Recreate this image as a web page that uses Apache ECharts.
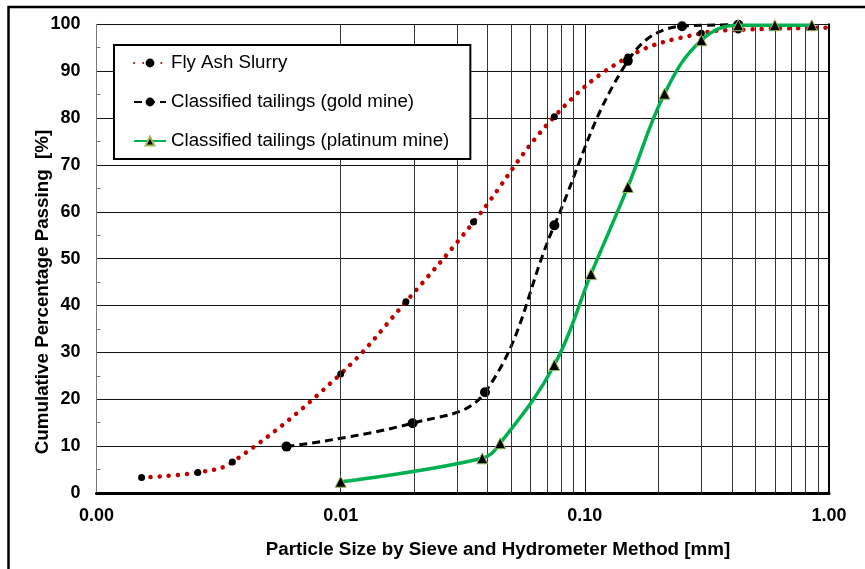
<!DOCTYPE html>
<html>
<head>
<meta charset="utf-8">
<script src="https://cdn.jsdelivr.net/npm/echarts@6/dist/echarts.min.js"></script>
<style>
html,body{margin:0;padding:0;background:#fff;}
#chart{width:865px;height:569px;}
</style>
</head>
<body>
<div id="chart"></div>
<script>
// ---- data ----
const seriesNames = ['Fly Ash Slurry', 'Classified tailings (gold mine)', 'Classified tailings (platinum mine)'];
const xTitle = 'Particle Size by Sieve and Hydrometer Method [mm]';
const yTitle = 'Cumulative Percentage Passing  [%]';

const flySize = [0.00153, 0.0026, 0.0036, 0.01, 0.0185, 0.035, 0.075, 0.15, 0.3, 0.425, 1.0];
const flyPass = [3.3, 4.4, 6.6, 25.4, 40.8, 57.8, 80.3, 93.0, 98.1, 98.8, 99.3];

const goldSize = [0.006, 0.0197, 0.039, 0.075, 0.15, 0.25, 0.425];
const goldPass = [9.9, 14.9, 21.5, 57.1, 92.2, 99.6, 99.9];

const platSize = [0.01, 0.038, 0.045, 0.075, 0.106, 0.15, 0.212, 0.3, 0.425, 0.6, 0.85];
const platPass = [2.4, 7.4, 10.6, 27.3, 46.7, 65.3, 85.2, 96.6, 99.8, 99.8, 99.8];

const xTickDecades = [0.001, 0.01, 0.1, 1];
const minorMantissas = [2, 3, 4, 5, 6, 7, 8, 9];

// ---- build ----
const zip = (xs, ys) => xs.map((x, i) => [x, ys[i]]);
const flyData = zip(flySize, flyPass).map((p, i) =>
  i === flySize.length - 1 ? { value: p, symbol: 'none' } : p);
const minorLines = [];
xTickDecades.slice(0, -1).forEach(d => minorMantissas.forEach(m => minorLines.push({ xAxis: +(d * m).toPrecision(3) })));

const FONT = '"Liberation Sans", Arial, sans-serif';
const TITLE_FONT = 'bold 18.8px "Liberation Sans", Arial, sans-serif';
const chart = echarts.init(document.getElementById('chart'), null, { renderer: 'canvas' });
chart.setOption({
  animation: false,
  backgroundColor: '#fff',
  textStyle: { fontFamily: FONT },
  graphic: [{
    type: 'rect', silent: true, z: -10,
    shape: { x: 8.5, y: 7, width: 900, height: 620 },
    style: { fill: null, stroke: '#000', lineWidth: 2.5 }
  }, {
    type: 'text', silent: true, x: 498, y: 550,
    style: { text: xTitle, align: 'center', verticalAlign: 'middle', font: TITLE_FONT, fill: '#000' }
  }, {
    type: 'text', silent: true, x: 43, y: 292, rotation: Math.PI / 2,
    style: { text: yTitle, align: 'center', verticalAlign: 'middle', font: TITLE_FONT, fill: '#000' }
  }],
  grid: { left: 96.5, right: 36, top: 24.3, bottom: 76 },
  legend: {
    data: seriesNames,
    orient: 'vertical',
    left: 114, top: 45,
    backgroundColor: '#fff',
    borderColor: '#000', borderWidth: 2, borderRadius: 0,
    padding: [8, 21, 8, 19],
    itemWidth: 32, itemHeight: 11,
    itemGap: 19,
    textStyle: { fontSize: 18.7, lineHeight: 20, color: '#000', fontFamily: FONT },
    z: 10
  },
  xAxis: [{
    type: 'log', logBase: 10, min: 0.001, max: 1,
    axisLine: { show: true, lineStyle: { color: '#000', width: 3 } },
    axisTick: { show: false },
    axisLabel: { formatter: v => Number(v).toFixed(2), color: '#000', fontWeight: 'bold', fontSize: 18, fontFamily: FONT, margin: 14 },
    splitLine: { show: true, lineStyle: { color: '#111', width: 1 } }
  }, {
    type: 'log', logBase: 10, min: 0.001, max: 1, position: 'top',
    axisLine: { show: true, lineStyle: { color: '#000', width: 2 } },
    axisTick: { show: false }, axisLabel: { show: false }, splitLine: { show: false }
  }],
  yAxis: [{
    type: 'value', min: 0, max: 100, interval: 10,
    axisLine: { show: true, lineStyle: { color: '#777', width: 1 } },
    axisTick: { show: false, inside: true },
    minorTick: { show: true, splitNumber: 2, length: 4, lineStyle: { color: '#777', width: 1 } },
    axisLabel: { color: '#000', fontWeight: 'bold', fontSize: 18, fontFamily: FONT, margin: 16 },
    splitLine: { show: true, lineStyle: { color: '#111', width: 1 } }
  }, {
    type: 'value', min: 0, max: 100, position: 'right',
    axisLine: { show: true, lineStyle: { color: '#000', width: 2 } },
    axisTick: { show: false }, axisLabel: { show: false }, splitLine: { show: false }
  }],
  series: [{
    name: 'grid-minor', type: 'line', data: [], z: 1, silent: true,
    markLine: {
      silent: true, symbol: ['none', 'none'], label: { show: false },
      lineStyle: { color: '#333', width: 1, type: 'solid' },
      emphasis: { disabled: true },
      data: minorLines
    }
  }, {
    name: seriesNames[0], type: 'line', data: flyData, smooth: 0.4, z: 3,
    symbol: 'circle', symbolSize: 7,
    itemStyle: { color: '#000' },
    lineStyle: { color: '#c00000', width: 4.5, type: [0.1, 9], cap: 'round' }
  }, {
    name: seriesNames[1], type: 'line', data: zip(goldSize, goldPass), smooth: 0.4, z: 4,
    symbol: 'circle', symbolSize: 10,
    itemStyle: { color: '#000' },
    lineStyle: { color: '#000', width: 3, type: [8, 5] }
  }, {
    name: seriesNames[2], type: 'line', data: zip(platSize, platPass), smooth: 0.4, z: 5,
    symbol: 'triangle', symbolSize: 11,
    itemStyle: { color: '#000', borderColor: '#9bbb59', borderWidth: 1 },
    lineStyle: { color: '#00b050', width: 3.5 }
  }]
});
</script>
</body>
</html>
